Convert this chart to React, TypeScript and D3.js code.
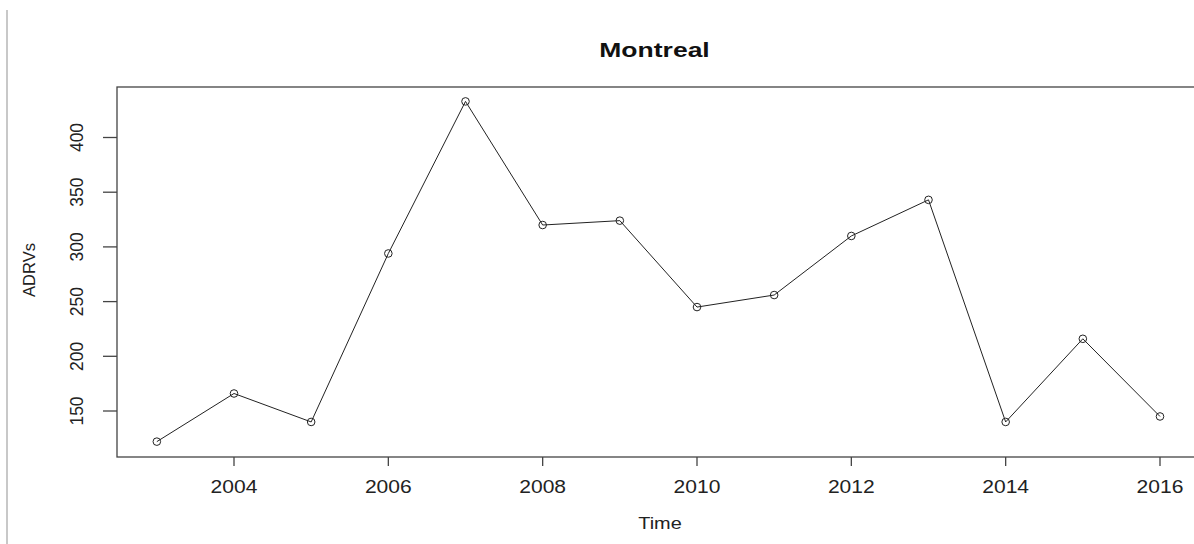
import React from "react";
import * as d3 from "d3";

const years = [2003, 2004, 2005, 2006, 2007, 2008, 2009, 2010, 2011, 2012, 2013, 2014, 2015, 2016];
const adrvs = [122, 166, 140, 294, 433, 320, 324, 245, 256, 310, 343, 140, 216, 145];
const xTicks = [2004, 2006, 2008, 2010, 2012, 2014, 2016];
const yTicks = [150, 200, 250, 300, 350, 400];
const title = "Montreal";
const xLabel = "Time";
const yLabel = "ADRVs";

export default function App() {
  const W = 1194, H = 544;
  const x = d3.scaleLinear().domain([2004, 2016]).range([234, 1160]);
  const y = d3.scaleLinear().domain([150, 400]).range([411, 137.5]);
  const box = { l: 117, t: 87, r: 1201, b: 457 };
  const line = d3.line<number>().x((_, i) => x(years[i])).y((d) => y(d));
  const font = "'Liberation Sans', Arial, sans-serif";
  const txt = "#222";
  return (
    <svg width={W} height={H} style={{ position: "absolute", left: 0, top: 0, background: "#fff" }}>
      <line x1={7} x2={7} y1={10} y2={H} stroke="#c8c8c8" strokeWidth={2} />
      <text transform={`translate(654.5,56.7) scale(1.36,1)`} textAnchor="middle" fontFamily={font} fontWeight="bold" fontSize={19.5} fill="#111">{title}</text>
      <rect x={box.l} y={box.t} width={box.r - box.l} height={box.b - box.t} fill="none" stroke="#444" strokeWidth={1.3} />
      {xTicks.map((t) => (
        <g key={t}>
          <line x1={x(t)} x2={x(t)} y1={box.b} y2={box.b + 9} stroke="#444" strokeWidth={1.3} />
          <text transform={`translate(${x(t)},492.5) scale(1.17,1)`} textAnchor="middle" fontFamily={font} fontSize={18} fill={txt}>{t}</text>
        </g>
      ))}
      {yTicks.map((t) => (
        <g key={t}>
          <line x1={box.l - 14} x2={box.l} y1={y(t)} y2={y(t)} stroke="#444" strokeWidth={1.3} />
          <text transform={`translate(${83},${y(t)}) rotate(-90)`} textAnchor="middle" fontFamily={font} fontSize={17.5} fill={txt}>{t}</text>
        </g>
      ))}
      <text transform={`translate(660,529.3) scale(1.17,1)`} textAnchor="middle" fontFamily={font} fontSize={17} fill={txt}>{xLabel}</text>
      <text transform={`translate(${34.5},${270}) rotate(-90)`} textAnchor="middle" fontFamily={font} fontSize={16.5} fill={txt}>{yLabel}</text>
      <path d={line(adrvs) || ""} fill="none" stroke="#222" strokeWidth={1} />
      {adrvs.map((v, i) => (
        <circle key={i} cx={x(years[i])} cy={y(v)} r={3.8} fill="none" stroke="#222" strokeWidth={1} />
      ))}
    </svg>
  );
}
